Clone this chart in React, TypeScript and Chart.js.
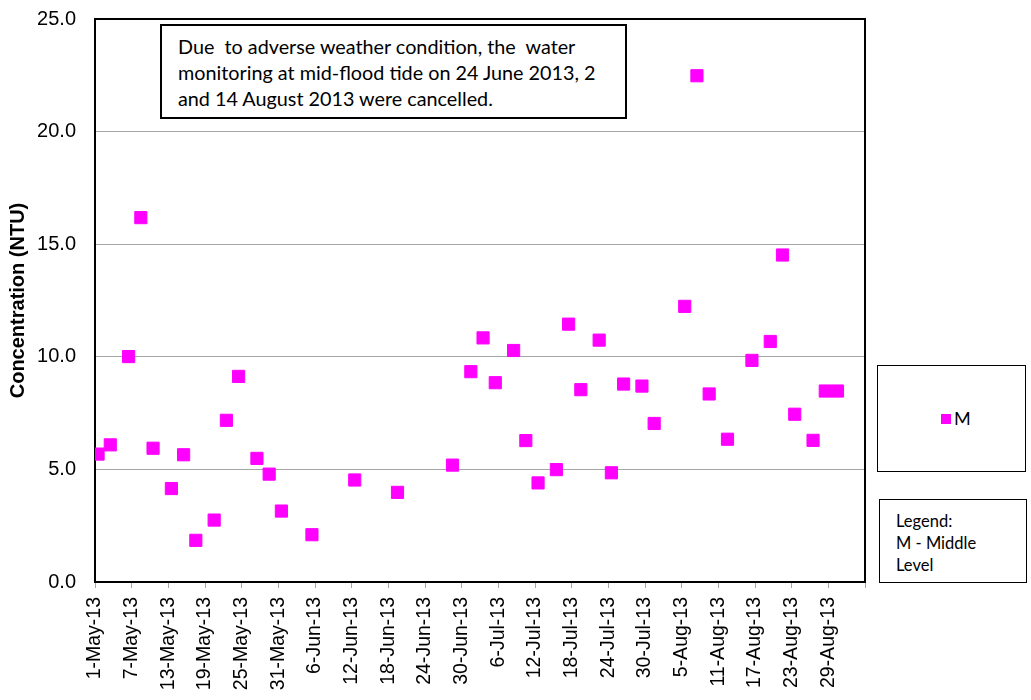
import React, { useEffect, useRef } from 'react';
import { Chart, registerables } from 'chart.js';

Chart.register(...registerables);

// Sampling dates (mid-flood tide, Middle level)
const sampleDates: string[] = [
  '2013-05-01', '2013-05-03', '2013-05-06', '2013-05-08', '2013-05-10',
  '2013-05-13', '2013-05-15', '2013-05-17', '2013-05-20', '2013-05-22',
  '2013-05-24', '2013-05-27', '2013-05-29', '2013-05-31', '2013-06-05',
  '2013-06-12', '2013-06-19', '2013-06-28', '2013-07-01', '2013-07-03',
  '2013-07-05', '2013-07-08', '2013-07-10', '2013-07-12', '2013-07-15',
  '2013-07-17', '2013-07-19', '2013-07-22', '2013-07-24', '2013-07-26',
  '2013-07-29', '2013-07-31', '2013-08-05', '2013-08-07', '2013-08-09',
  '2013-08-12', '2013-08-16', '2013-08-19', '2013-08-21', '2013-08-23',
  '2013-08-26', '2013-08-28', '2013-08-30',
];

// Turbidity (NTU), M - Middle level
const turbidityM: number[] = [
  5.68, 6.09, 10.01, 16.18, 5.94,
  4.15, 5.65, 1.85, 2.75, 7.18,
  9.13, 5.49, 4.79, 3.15, 2.10,
  4.53, 3.98, 5.19, 9.34, 10.84,
  8.85, 10.28, 6.28, 4.40, 4.99,
  11.45, 8.54, 10.74, 4.85, 8.79,
  8.70, 7.04, 12.24, 22.48, 8.35,
  6.34, 9.84, 10.68, 14.52, 7.45,
  6.29, 8.48, 8.48,
];

const axisStartDate = '2013-05-01';
const axisSpanDays = 126;
const tickStepDays = 6;
const yMin = 0;
const yMax = 25;
const yStep = 5;
const monthNames = ['Jan', 'Feb', 'Mar', 'Apr', 'May', 'Jun', 'Jul', 'Aug', 'Sep', 'Oct', 'Nov', 'Dec'];

const noteLines: string[] = [
  'Due  to adverse weather condition, the  water',
  'monitoring at mid-flood tide on 24 June 2013, 2',
  'and 14 August 2013 were cancelled.',
];
const seriesName = 'M';
const legendNoteLines: string[] = ['Legend:', 'M - Middle', 'Level'];

const DAY_MS = 86400000;
const toUTC = (s: string) => {
  const [y, m, d] = s.split('-').map(Number);
  return Date.UTC(y, m - 1, d);
};
const startMs = toUTC(axisStartDate);
const dayIndex = (s: string) => Math.round((toUTC(s) - startMs) / DAY_MS);
const formatDay = (day: number) => {
  const dt = new Date(startMs + day * DAY_MS);
  return `${dt.getUTCDate()}-${monthNames[dt.getUTCMonth()]}-${String(dt.getUTCFullYear()).slice(2)}`;
};

const MAGENTA = '#FF00FF';
const GRID = '#A6A6A6';

export default function App() {
  const canvasRef = useRef<HTMLCanvasElement | null>(null);

  useEffect(() => {
    if (!canvasRef.current) return;
    const points = sampleDates.map((d, i) => ({ x: dayIndex(d), y: turbidityM[i] }));

    const borderPlugin = {
      id: 'plotBorder',
      beforeDatasetsDraw(chart: any) {
        const { ctx, chartArea } = chart;
        ctx.save();
        ctx.strokeStyle = '#000';
        ctx.lineWidth = 2;
        ctx.strokeRect(chartArea.left, chartArea.top, chartArea.right - chartArea.left, chartArea.bottom - chartArea.top);
        ctx.restore();
      },
    };

    const chart = new Chart(canvasRef.current, {
      type: 'scatter',
      data: {
        datasets: [
          {
            label: seriesName,
            data: points,
            pointStyle: 'rect',
            pointRadius: 8.6,
            pointBorderWidth: 1,
            backgroundColor: MAGENTA,
            borderColor: MAGENTA,
            pointHoverRadius: 8.6,
          },
        ],
      },
      options: {
        responsive: false,
        animation: false,
        layout: { padding: { left: 0, top: 19, right: 166, bottom: 0 } },
        plugins: {
          legend: { display: false },
          tooltip: { enabled: false },
        },
        scales: {
          x: {
            type: 'linear',
            min: -0.5,
            max: axisSpanDays - 0.5,
            afterBuildTicks: (scale: any) => {
              const ticks = [];
              for (let d = 0; d <= axisSpanDays; d += tickStepDays) ticks.push({ value: d - 0.5 });
              scale.ticks = ticks;
            },
            afterFit: (scale: any) => {
              scale.height = 118;
            },
            border: { display: false },
            grid: {
              drawOnChartArea: false,
              drawTicks: true,
              tickLength: 6,
              color: GRID,
            },
            ticks: {
              autoSkip: false,
              minRotation: 90,
              maxRotation: 90,
              padding: 9,
              color: '#000',
              font: { family: '"Liberation Sans", Arial, sans-serif', size: 19.5 },
              callback: (v: any) => {
                const day = Number(v) + 0.5;
                if (day >= axisSpanDays) return '';
                return formatDay(day);
              },
            },
          },
          y: {
            min: yMin,
            max: yMax,
            afterFit: (scale: any) => {
              scale.width = 95;
              scale.paddingTop = 0;
              scale.paddingBottom = 0;
            },
            border: { display: false },
            grid: { color: GRID, drawTicks: false, lineWidth: 1 },
            ticks: {
              stepSize: yStep,
              padding: 19,
              color: '#000',
              font: { family: '"Liberation Sans", Arial, sans-serif', size: 20 },
              callback: (v: any) => Number(v).toFixed(1),
            },
            title: {
              display: true,
              text: 'Concentration (NTU)',
              color: '#000',
              padding: { top: 6, bottom: 0 },
              font: { family: '"Liberation Sans", Arial, sans-serif', size: 20, weight: 'bold' },
            },
          },
        },
      },
      plugins: [borderPlugin],
    } as any);

    return () => chart.destroy();
  }, []);

  const noteFont = 'Lato, "Noto Sans", sans-serif';

  return (
    <div style={{ position: 'absolute', left: 0, top: 0, width: 1031, height: 700, background: '#fff' }}>
      <canvas ref={canvasRef} width={1031} height={700} style={{ position: 'absolute', left: 0, top: 0, width: 1031, height: 700 }} />
      <div
        style={{
          position: 'absolute', left: 160, top: 24, width: 467, height: 95, boxSizing: 'border-box',
          border: '2px solid #000', background: '#fff', padding: '7px 0 0 16px',
          fontFamily: noteFont, fontSize: 19.8, lineHeight: '26px', color: '#000', whiteSpace: 'pre',
        }}
      >
        {noteLines.map((l, i) => (<div key={i}>{l}</div>))}
      </div>
      <div
        style={{
          position: 'absolute', left: 877, top: 365, width: 149, height: 107, boxSizing: 'border-box',
          border: '1.5px solid #000', background: '#fff',
        }}
      >
        <div style={{ position: 'absolute', left: 63, top: 48, width: 10, height: 10, background: MAGENTA }} />
        <div style={{ position: 'absolute', left: 76, top: 41, fontFamily: noteFont, fontSize: 18, lineHeight: '22px', color: '#000' }}>
          {seriesName}
        </div>
      </div>
      <div
        style={{
          position: 'absolute', left: 879, top: 499, width: 148, height: 84, boxSizing: 'border-box',
          border: '1.5px solid #000', background: '#fff', padding: '10px 0 0 16px',
          fontFamily: noteFont, fontSize: 16.5, lineHeight: '22px', color: '#000',
        }}
      >
        {legendNoteLines.map((l, i) => (<div key={i}>{l}</div>))}
      </div>
    </div>
  );
}
